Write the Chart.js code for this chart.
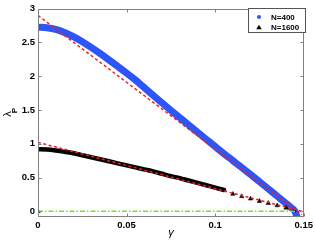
<!DOCTYPE html>
<html>
<head>
<meta charset="utf-8">
<script src="https://cdn.jsdelivr.net/npm/chart.js@4/dist/chart.umd.min.js"></script>
<style>
html,body{margin:0;padding:0;background:#fff;}
canvas{display:block;}
</style>
</head>
<body>
<canvas id="c" width="316" height="240"></canvas>
<script>
// ---- data ----
const gamma400 = [0,0.005,0.01,0.015,0.02,0.025,0.03,0.035,0.04,0.045,0.05,0.055,0.06,0.065,0.07,0.075,0.08,0.085,0.09,0.095,0.1,0.105,0.11,0.115,0.12,0.125,0.13,0.135,0.14,0.143,0.145,0.1462];
const lambda400 = [2.726,2.718,2.694,2.648,2.586,2.511,2.427,2.337,2.242,2.145,2.047,1.944,1.83,1.715,1.605,1.495,1.387,1.279,1.172,1.065,0.958,0.852,0.750,0.648,0.545,0.439,0.332,0.224,0.117,0.05,0.0,-0.08];
const gamma1600 = [0,0.005,0.01,0.015,0.02,0.025,0.03,0.035,0.04,0.045,0.05,0.055,0.06,0.065,0.07,0.075,0.08,0.085,0.09,0.095,0.1,0.105];
const lambda1600 = [0.92,0.915,0.90,0.88,0.86,0.83,0.80,0.77,0.74,0.71,0.68,0.65,0.62,0.59,0.555,0.52,0.49,0.455,0.42,0.385,0.35,0.315];
const gamma1600Tri = [0,0.110,0.115,0.120,0.125,0.130,0.135,0.140,0.1445];
const lambda1600Tri = [0,0.255,0.22,0.185,0.15,0.12,0.085,0.05,0.015];
const gammaFitUpper = [0,0.149];
const lambdaFitUpper = [2.9,-0.05];
const gammaFitLower = [0,0.149];
const lambdaFitLower = [1.02,0.0];
const gammaZero = [0,0.1467];
const lambdaZero = [0,0];
const xTickValues = [0,0.05,0.1,0.15];
const yTickValues = [0,0.5,1,1.5,2,2.5,3];
const seriesNames = ['N=400','N=1600'];

const pts = (xs, ys) => xs.map((x,i)=>({x:x, y:ys[i]}));
const FONT = 'Liberation Sans, Arial, sans-serif';
const BLUE = '#2d55f8';

const framePlugin = {
  id:'frame',
  afterDraw(chart){
    const {ctx, chartArea:a, scales} = chart;
    const x = scales.x, y = scales.y;
    ctx.save();
    ctx.strokeStyle = '#808080';
    ctx.lineWidth = 1;
    const L = Math.round(a.left)+0.5, R = Math.round(a.right)-0.5, T = Math.round(a.top)+0.5, B = Math.round(a.bottom)-0.5;
    ctx.strokeRect(L, T, R-L, B-T);
    ctx.beginPath();
    x.ticks.forEach(t=>{
      const px = Math.round(x.getPixelForValue(t.value))+0.5;
      ctx.moveTo(px,B); ctx.lineTo(px,B-3);
      ctx.moveTo(px,T); ctx.lineTo(px,T+3);
    });
    y.ticks.forEach(t=>{
      const py = Math.round(y.getPixelForValue(t.value))+0.5;
      ctx.moveTo(L,py); ctx.lineTo(L+3,py);
      ctx.moveTo(R,py); ctx.lineTo(R-3,py);
    });
    ctx.stroke();

    // axis titles
    ctx.fillStyle = '#000';
    ctx.textAlign = 'center'; ctx.textBaseline = 'middle';
    ctx.font = 'italic 11px ' + FONT;
    ctx.fillText('γ', (a.left+a.right)/2, 233);
    ctx.save();
    ctx.translate(8, 114); ctx.rotate(-Math.PI/2);
    ctx.font = '11px ' + FONT;
    ctx.fillText('λ', 0, 0);
    ctx.restore();
    ctx.save();
    ctx.translate(15, 110.5); ctx.rotate(-Math.PI/2);
    ctx.font = 'bold 8px ' + FONT;
    ctx.fillText('P', 0, 0);
    ctx.restore();

    // legend box
    const lx = 248.5, ly = 8.5, lw = 57, lh = 24;
    ctx.fillStyle = '#fff';
    ctx.fillRect(lx, ly, lw, lh);
    ctx.strokeStyle = '#555';
    ctx.strokeRect(lx, ly, lw, lh);
    ctx.fillStyle = BLUE;
    ctx.beginPath(); ctx.arc(259, 17, 2, 0, Math.PI*2); ctx.fill();
    ctx.fillStyle = '#000';
    ctx.beginPath(); ctx.moveTo(259, 24.8); ctx.lineTo(261.8, 29.3); ctx.lineTo(256.2, 29.3); ctx.closePath(); ctx.fill();
    ctx.font = 'bold 8px ' + FONT;
    ctx.textAlign = 'left';
    ctx.fillText(seriesNames[0], 271, 17.5);
    ctx.fillText(seriesNames[1], 271, 27.5);
    ctx.restore();
  }
};

new Chart(document.getElementById('c'), {
  type: 'scatter',
  data: {
    datasets: [
      {label:'fit upper', data: pts(gammaFitUpper, lambdaFitUpper), showLine:true, borderColor:'#f02020', borderWidth:1.5, borderDash:[3,2.5], pointRadius:0, order:0},
      {label:'fit lower', data: pts(gammaFitLower, lambdaFitLower), showLine:true, borderColor:'#f02020', borderWidth:1.5, borderDash:[3,2.5], pointRadius:0, order:0},
      {label:'zero', data: pts(gammaZero, lambdaZero), showLine:true, borderColor:'#6ee62a', borderWidth:1.5, borderDash:[5,2,1.5,2], pointRadius:0, order:1},
      {label:seriesNames[1]+' markers', data: pts(gamma1600Tri, lambda1600Tri), showLine:false, pointStyle:'triangle', pointRadius:2.6, backgroundColor:'#000', borderColor:'#000', borderWidth:0.5, order:2},
      {label:seriesNames[1], data: pts(gamma1600, lambda1600), showLine:true, cubicInterpolationMode:'monotone', borderColor:'#000', borderWidth:4.5, borderCapStyle:'round', borderJoinStyle:'round', pointRadius:0, order:3},
      {label:seriesNames[0], data: pts(gamma400, lambda400), showLine:true, cubicInterpolationMode:'monotone', borderColor:BLUE, borderWidth:7, borderCapStyle:'round', borderJoinStyle:'round', pointRadius:0, order:4}
    ]
  },
  options: {
    responsive:false,
    animation:false,
    devicePixelRatio:1,
    layout:{padding:{left:0,right:11,top:7,bottom:0}},
    plugins:{legend:{display:false}, tooltip:{enabled:false}},
    scales:{
      x:{type:'linear', min:0, max:0.15,
         afterBuildTicks: s => { s.ticks = xTickValues.map(v=>({value:v})); },
         afterFit: s => { s.height = 23; },
         grid:{display:false, drawTicks:false}, border:{display:false},
         ticks:{color:'#000', padding:3, maxRotation:0, font:{family:FONT, size:9.5, weight:'bold'}, callback: v => String(+v.toFixed(2))}},
      y:{type:'linear', min:-0.085, max:3,
         afterBuildTicks: s => { s.ticks = yTickValues.map(v=>({value:v})); },
         afterFit: s => { s.width = 38; },
         grid:{display:false, drawTicks:false}, border:{display:false},
         ticks:{color:'#000', padding:3, font:{family:FONT, size:9.5, weight:'bold'}, callback: v => String(+v.toFixed(2))}}
    }
  },
  plugins:[framePlugin]
});
</script>
</body>
</html>
